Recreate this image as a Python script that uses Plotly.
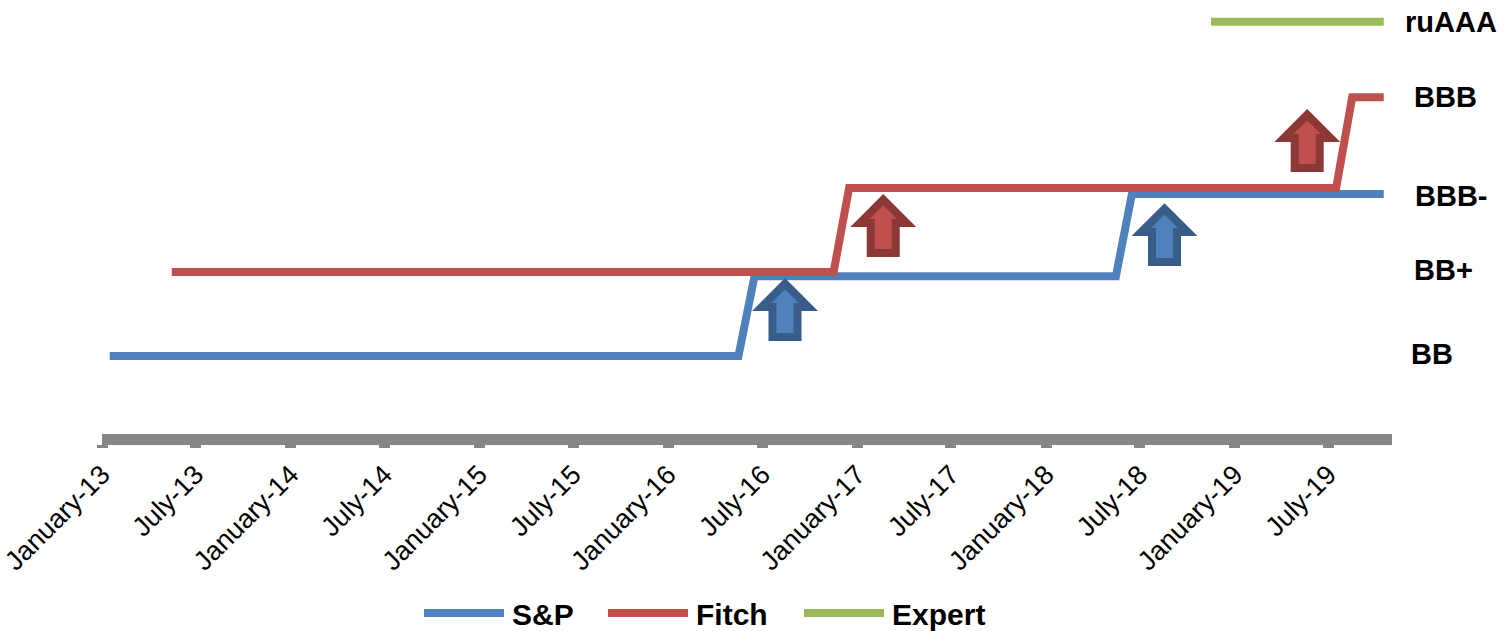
import plotly.graph_objects as go

# ---------------- data ----------------
sp_dates = ["2013-01-16", "2016-05-16", "2016-06-16", "2018-05-16", "2018-06-16", "2019-10-16"]
sp_values = [1.0, 1.0, 1.95, 1.95, 2.93, 2.93]

fitch_dates = ["2013-05-16", "2016-11-16", "2016-12-16", "2019-07-16", "2019-08-16", "2019-10-16"]
fitch_values = [2.0, 2.0, 3.0, 3.0, 4.08, 4.08]

expert_dates = ["2018-11-16", "2019-10-16"]
expert_values = [4.98, 4.98]

rating_labels = ["ruAAA", "BBB", "BBB-", "BB+", "BB"]
rating_levels = [4.98, 4.08, 2.91, 2.02, 1.02]

series_names = ["S&P", "Fitch", "Expert"]
series_colors = ["#4F81BD", "#C0504D", "#9BBB59"]

# upgrade arrows: (date of arrow centre, level of arrow base, which agency)
arrow_dates = ["2016-08-14", "2017-02-20", "2018-08-18", "2019-05-21"]
arrow_levels = [1.18, 2.18, 2.07, 3.19]
arrow_agency = ["S&P", "Fitch", "S&P", "Fitch"]

FONT = "Liberation Sans, Arial, sans-serif"

fig = go.Figure()
for name, xs, ys, col in zip(series_names,
                             [sp_dates, fitch_dates, expert_dates],
                             [sp_values, fitch_values, expert_values],
                             series_colors):
    fig.add_trace(go.Scatter(x=xs, y=ys, mode="lines", name=name,
                             line=dict(color=col, width=8),
                             showlegend=False, cliponaxis=False))

# block arrows
arrow_fill = {"S&P": "#4F81BD", "Fitch": "#C0504D"}
arrow_edge = {"S&P": "#385D8A", "Fitch": "#8C3836"}
arrow_path = "M -12.5,4 L -12.5,34 L -23.3,34 L 0,57.3 L 23.3,34 L 12.5,34 L 12.5,4 Z"
for d, lv, ag in zip(arrow_dates, arrow_levels, arrow_agency):
    fig.add_shape(type="path", xref="x", yref="y",
                  xsizemode="pixel", ysizemode="pixel",
                  xanchor=d, yanchor=lv, path=arrow_path,
                  fillcolor=arrow_fill[ag],
                  line=dict(color=arrow_edge[ag], width=8))

# rating labels on the right
label_x = [1.0085, 1.0155, 1.0163, 1.0155, 1.013]
for txt, lv, lx in zip(rating_labels, rating_levels, label_x):
    fig.add_annotation(x=lx, xref="paper", y=lv, yref="y", text="<b>%s</b>" % txt,
                       showarrow=False, xanchor="left", yanchor="middle",
                       font=dict(family=FONT, size=29, color="black"))

# custom legend at the bottom
W, H = 1510, 631
L, R, T, B = 102, 118, 10, 197
pw, ph = W - L - R, H - T - B
def px(x):
    return (x - L) / pw
def py(y):
    return (H - B - y) / ph
leg_line_x = [423, 607, 803]
leg_y = 613
for name, col, x0 in zip(series_names, series_colors, leg_line_x):
    fig.add_shape(type="line", xref="paper", yref="paper",
                  x0=px(x0 + 1), x1=px(x0 + 81), y0=py(leg_y), y1=py(leg_y),
                  line=dict(color=col, width=8))
    fig.add_annotation(x=px(x0 + 87), y=py(leg_y + 1), xref="paper", yref="paper",
                       text="<b>%s</b>" % name, showarrow=False,
                       xanchor="left", yanchor="middle",
                       font=dict(family=FONT, size=30, color="black"))

fig.update_layout(
    width=W, height=H,
    margin=dict(l=L, r=R, t=T, b=B, pad=0),
    paper_bgcolor="white", plot_bgcolor="white",
    showlegend=False,
    xaxis=dict(type="date", range=["2013-01-01", "2019-11-01"],
               tick0="2013-01-01", dtick="M6", tickformat="%B-%y",
               tickangle=-45, showgrid=False, zeroline=False,
               showline=True, linecolor="#868686", linewidth=11,
               ticks="outside", ticklen=3, tickwidth=11, tickcolor="#868686",
               ticklabeloverflow="allow", automargin=False,
               tickfont=dict(family=FONT, size=27, color="black")),
    yaxis=dict(range=[0.0714, 5.119], visible=False, showgrid=False,
               zeroline=False, fixedrange=True),
)

fig.write_html("out.html")
